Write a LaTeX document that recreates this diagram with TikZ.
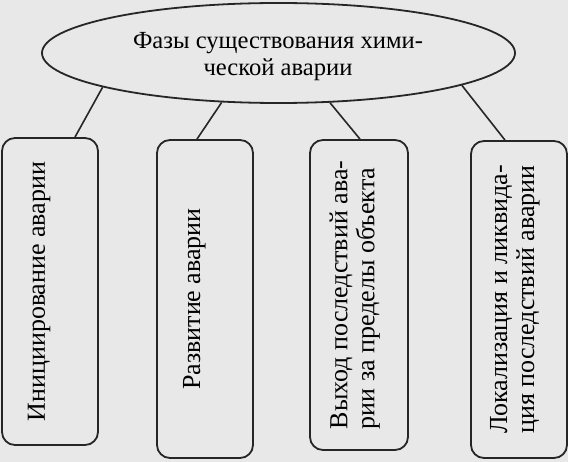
\documentclass[tikz,border=0pt]{standalone}
\usepackage{fontspec}
\setmainfont{Liberation Serif}
\usetikzlibrary{shapes.geometric}

\begin{document}
\begin{tikzpicture}[
  x=1pt, y=-1pt,
  font=\fontsize{26}{27}\selectfont,
  root/.style={draw=black!85, ellipse, line width=1.8pt, inner sep=0pt, minimum width=473pt, minimum height=100pt},
  title/.style={align=center, inner sep=0pt, font=\fontsize{24.6}{27.5}\selectfont},
  phase/.style={draw=black!85, rounded corners=13pt, rotate=90, line width=1.8pt, inner sep=0pt, align=left},
  oneline/.style={text height=18pt, text depth=28pt},
  link/.style={draw=black!85, line width=1.6pt}
]

% page
\path[fill=black!9] (0,0) rectangle (568,462);
\useasboundingbox (0,0) rectangle (568,462);

% Title
\node[root] (phases) at (278.5,53) {};
\node[title] (phasestitle) at (278,56.5) {Фазы существования хими-\\ческой аварии};

% Phases
\node[phase, oneline, minimum width=307pt, minimum height=96pt] (init) at (50,291.5) {Инициирование аварии};
\node[phase, oneline, minimum width=318pt, minimum height=96pt] (devel) at (205,299) {Развитие аварии};
\node[phase, minimum width=310pt, minimum height=98pt, text depth=14pt] (spread) at (359,295) {Выход последствий ава-\\рии за пределы объекта};
\node[phase, minimum width=317pt, minimum height=96pt, text depth=14pt] (liquid) at (519,299.5) {Локализация и ликвида-\\ция последствий аварии};

\draw[link] (phases.191) -- ([xshift=25pt]init.east);
\draw[link] (phases.221) -- ([xshift=-8pt]devel.east);
\draw[link] (phases.316) -- ([xshift=1pt]spread.east);
\draw[link] (phases.350) -- ([xshift=-14pt]liquid.east);

\end{tikzpicture}
\end{document}
